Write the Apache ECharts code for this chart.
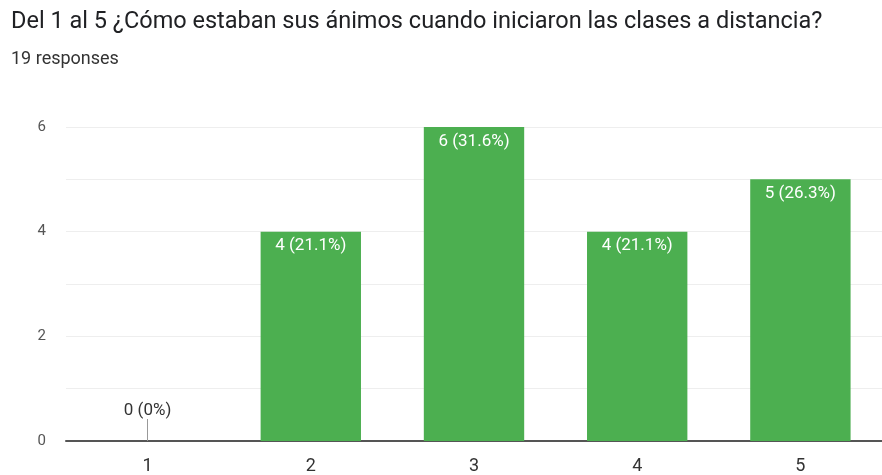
<!DOCTYPE html>
<html>
<head>
<meta charset="utf-8">
<script src="https://cdn.jsdelivr.net/npm/echarts@6/dist/echarts.min.js"></script>
<style>html,body{margin:0;padding:0;background:#fff}#c{width:882px;height:475px}</style>
</head>
<body>
<div id="c"></div>
<script>
var titleText = 'Del 1 al 5 ¿Cómo estaban sus ánimos cuando iniciaron las clases a distancia?';
var subtitleText = '19 responses';
var categories = ['1', '2', '3', '4', '5'];
var counts = [0, 4, 6, 4, 5];
var percents = ['0%', '21.1%', '31.6%', '21.1%', '26.3%'];
var yTicks = [0, 2, 4, 6];

var chart = echarts.init(document.getElementById('c'));
var data = counts.map(function (v, i) {
  var item = { value: v };
  if (v === 0) {
    item.label = { position: 'top', distance: 22, color: '#333' };
  }
  return item;
});
chart.setOption({
  animation: false,
  title: {
    text: titleText,
    subtext: subtitleText,
    left: 6, top: 5,
    itemGap: 16,
    textStyle: { fontFamily: 'Roboto', fontSize: 23.5, fontWeight: 'normal', color: '#202124' },
    subtextStyle: { fontFamily: 'Roboto', fontSize: 18, color: '#333' }
  },
  grid: { left: 66, right: 0, top: 127, bottom: 34, containLabel: false },
  xAxis: {
    type: 'category',
    data: categories,
    axisLine: { lineStyle: { color: '#555', width: 2 } },
    axisTick: { show: false },
    axisLabel: { color: '#333', fontFamily: 'Roboto', fontSize: 18, margin: 16 }
  },
  yAxis: {
    type: 'value',
    min: 0, max: 6, interval: 1,
    axisLine: { show: false },
    axisTick: { show: false },
    axisLabel: {
      color: '#555', fontFamily: 'Roboto', fontSize: 15, margin: 20,
      formatter: function (v) { return yTicks.indexOf(v) >= 0 ? String(v) : ''; }
    },
    splitLine: { lineStyle: { color: '#eeeeee', width: 1 } }
  },
  series: [{
    type: 'bar',
    data: data,
    barWidth: '61.5%',
    itemStyle: { color: '#4caf50' },
    label: {
      show: true,
      position: 'insideTop',
      distance: 6,
      color: '#fff',
      fontFamily: 'Roboto',
      fontSize: 17,
      formatter: function (p) { return p.value + ' (' + percents[p.dataIndex] + ')'; }
    },
    markLine: {
      silent: true,
      symbol: 'none',
      label: { show: false },
      lineStyle: { color: '#999', width: 1, type: 'solid' },
      data: [[{ coord: [categories[0], 0] }, { coord: [categories[0], 0.42] }]]
    }
  }]
});
</script>
</body>
</html>
